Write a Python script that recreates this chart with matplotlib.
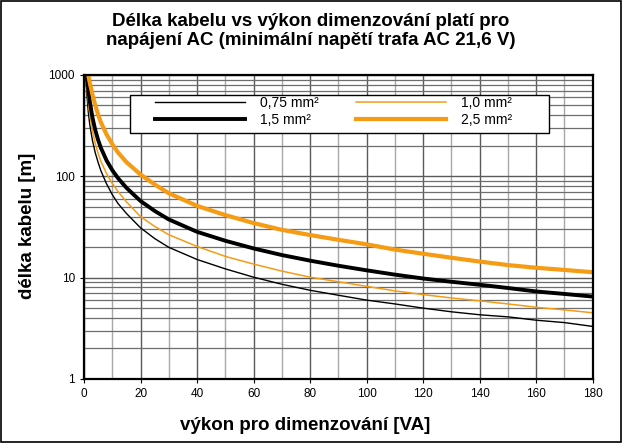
import matplotlib
matplotlib.use("Agg")
import matplotlib.pyplot as plt
from matplotlib.patches import Rectangle
from matplotlib.ticker import FixedLocator, NullFormatter

plt.rcParams["font.family"] = ["Liberation Sans", "DejaVu Sans"]

# ----------------------------------------------------------
# Daten
# ----------------------------------------------------------
x_075 = [0.6, 1, 1.5, 2, 3, 4, 5, 6, 8, 10, 12, 15, 20, 25, 30, 40, 50, 60, 70, 80, 90,
         100, 110, 120, 130, 140, 150, 160, 170, 180]
y_075 = [1000, 650, 440, 330, 225, 170, 137, 113, 84, 66, 54, 43, 31, 24.3, 19.9,
         15.1, 12.2, 10.1, 8.6, 7.5, 6.7, 6.0, 5.5, 5.0, 4.6, 4.3, 4.1, 3.8, 3.6, 3.3]

x_10 = [0.8, 1.2, 2, 3, 4, 5, 6, 8, 10, 12, 15, 20, 25, 30, 40, 50, 60, 70, 80, 90,
        100, 110, 120, 130, 140, 150, 160, 170, 180]
y_10 = [1000, 660, 420, 280, 210, 168, 140, 106, 85, 71, 56, 40, 32, 26.5, 20.3,
        16.2, 13.6, 11.6, 10.1, 9.1, 8.2, 7.4, 6.8, 6.3, 5.9, 5.5, 5.1, 4.8, 4.5]

x_15 = [1.0, 1.5, 2, 3, 4, 5, 6, 8, 10, 12, 15, 20, 25, 30, 40, 50, 60, 70, 80, 90,
        100, 110, 120, 130, 140, 150, 160, 170, 180]
y_15 = [1000, 740, 560, 380, 285, 228, 190, 143, 115, 96, 77, 57, 45.5, 37.5, 28.3,
        23.1, 19.4, 16.7, 14.7, 13.1, 11.8, 10.7, 9.8, 9.1, 8.5, 7.9, 7.3, 6.9, 6.5]

x_25 = [1.5, 2, 3, 4, 5, 6, 8, 10, 12, 15, 20, 25, 30, 40, 50, 60, 70, 80, 90,
        100, 110, 120, 130, 140, 150, 160, 170, 180]
y_25 = [1000, 850, 640, 500, 405, 340, 258, 208, 172, 138, 104, 83, 68, 51, 41.4,
        34.5, 29.6, 26.3, 23.6, 21.3, 18.9, 17.2, 15.7, 14.4, 13.3, 12.5, 11.9, 11.3]

labels = ["0,75 mm²", "1,0 mm²", "1,5 mm²", "2,5 mm²"]
x_ticks = [0, 20, 40, 60, 80, 100, 120, 140, 160, 180]
y_ticks = [1, 10, 100, 1000]
y_tick_labels = ["1", "10", "100", "1000"]

orange = "#F59B14"

# ----------------------------------------------------------
# Figur
# ----------------------------------------------------------
fig = plt.figure(figsize=(6.22, 4.43), dpi=100)
ax = fig.add_axes([0.135, 0.1445, 0.818, 0.6865])

ax.set_yscale("log")
ax.set_xlim(0, 180)
ax.set_ylim(1, 1000)

# Gitter
ax.xaxis.set_minor_locator(FixedLocator(list(range(10, 180, 20))))
ax.yaxis.set_minor_locator(FixedLocator([m * 10 ** e for e in range(0, 3) for m in range(2, 10)]))
ax.yaxis.set_minor_formatter(NullFormatter())
ax.grid(True, which="major", axis="x", color="#5a5a5a", lw=1.0)
ax.grid(True, which="minor", axis="x", color="#a8a8a8", lw=1.0)
ax.grid(True, which="major", axis="y", color="#5a5a5a", lw=1.0)
ax.grid(True, which="minor", axis="y", color="#6e6e6e", lw=0.9)
ax.set_axisbelow(True)

l1, = ax.plot(x_075, y_075, color="black", lw=1.0, label=labels[0])
l2, = ax.plot(x_10, y_10, color=orange, lw=1.1, label=labels[1])
l3, = ax.plot(x_15, y_15, color="black", lw=2.8, label=labels[2])
l4, = ax.plot(x_25, y_25, color=orange, lw=3.0, label=labels[3])

ax.set_xticks(x_ticks)
ax.set_yticks(y_ticks)
ax.set_yticklabels(y_tick_labels)
ax.tick_params(axis="both", which="major", labelsize=8.5, length=3, width=0.8, direction="out")
ax.tick_params(axis="both", which="minor", length=0)

for s in ax.spines.values():
    s.set_color("black")
    s.set_linewidth(1.6)

# Legendenrahmen separat, damit er so breit wird wie im Original
box = Rectangle((0.09, 0.809), 0.824, 0.125, transform=ax.transAxes,
                facecolor="white", edgecolor="black", lw=1.0, zorder=4)
ax.add_patch(box)

leg = ax.legend(handles=[l1, l3, l2, l4], ncol=2, loc="upper left",
                bbox_to_anchor=(0.139, 0.93), fontsize=10,
                handlelength=6.5, handletextpad=1.1, columnspacing=2.65,
                labelspacing=0.2, borderpad=0, borderaxespad=0, frameon=False)
leg.set_zorder(5)

fig.text(0.5, 0.93, "Délka kabelu vs výkon dimenzování platí pro\nnapájení AC (minimální napětí trafa AC 21,6 V)",
         ha="center", va="center", fontsize=13.5, fontweight="bold", linespacing=1.12)
fig.text(0.045, 0.49, "délka kabelu [m]", rotation=90, ha="center", va="center",
         fontsize=13.5, fontweight="bold")
fig.text(0.49, 0.04, "výkon pro dimenzování [VA]", ha="center", va="center",
         fontsize=13.5, fontweight="bold")

# Rahmen um die ganze Figur
fig.patches.append(Rectangle((0.002, 0.002), 0.996, 0.996, transform=fig.transFigure,
                             fill=False, edgecolor="black", lw=1.2))

fig.savefig("out.png", dpi=100)
